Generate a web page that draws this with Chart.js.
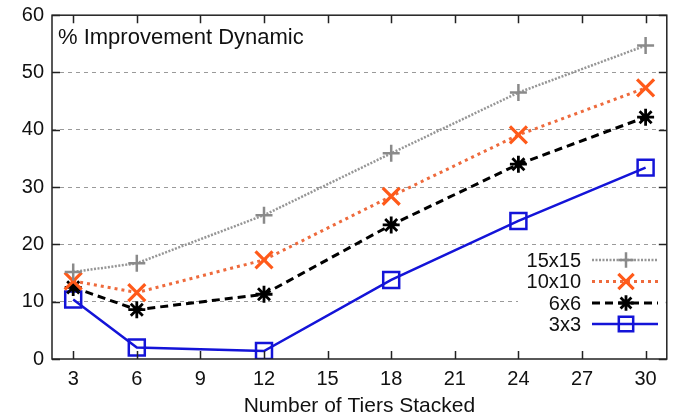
<!DOCTYPE html>
<html>
<head>
<meta charset="utf-8">
<script src="https://cdn.jsdelivr.net/npm/chart.js@4"></script>
<style>
  html, body { margin: 0; background: #fff; }
  #wrap { width: 682px; height: 419px; }
</style>
</head>
<body>
<div id="wrap"><canvas id="c"></canvas></div>
<script>
// data
const xTiers = [3, 6, 12, 18, 24, 30];
const xTicks = [3, 6, 9, 12, 15, 18, 21, 24, 27, 30];
const yTicks = [0, 10, 20, 30, 40, 50, 60];
const labels = ['15x15', '10x10', '6x6', '3x3'];
const s15 = [15.2, 16.7, 25.1, 35.9, 46.5, 54.7];
const s10 = [13.6, 11.6, 17.3, 28.4, 39.1, 47.3];
const s6  = [12.5, 8.6, 11.3, 23.4, 34.0, 42.2];
const s3  = [10.4, 2.0, 1.4, 13.8, 24.1, 33.4];

const FONT = '"Liberation Sans", Arial, Helvetica, sans-serif';
const pts = arr => xTiers.map((x, i) => ({ x: x, y: arr[i] }));

const series = [
  { label: labels[0], data: pts(s15), borderColor: '#969696', pointBorderColor: '#8a8a8a', borderDash: [2, 1.5], borderWidth: 2.5, pointStyle: 'cross', pointRadius: 8.5, pointBorderWidth: 2.5 },
  { label: labels[1], data: pts(s10), borderColor: '#ee6a3c', pointBorderColor: '#ff5a1a', borderDash: [3, 4], borderWidth: 3, pointStyle: 'crossRot', pointRadius: 12, pointBorderWidth: 3.2 },
  { label: labels[2], data: pts(s6),  borderColor: '#000000', pointBorderColor: '#000000', borderDash: [8, 5], borderWidth: 3, pointStyle: 'star', pointRadius: 8.5, pointBorderWidth: 2.8 },
  { label: labels[3], data: pts(s3),  borderColor: '#1414d8', pointBorderColor: '#1414d8', borderDash: [], borderWidth: 2.5, pointStyle: 'rect', pointRadius: 11.3, pointBorderWidth: 2.5 }
];
series.forEach(s => { s.pointBackgroundColor = 'rgba(255,255,255,0)'; s.fill = false; s.tension = 0; });

// box, inward ticks, legend and inner title
const frame = {
  id: 'frame',
  afterDraw(chart) {
    const { ctx, chartArea: a, scales: { x, y } } = chart;
    ctx.save();
    ctx.strokeStyle = '#222';
    ctx.lineWidth = 1.5;
    ctx.setLineDash([]);
    ctx.strokeRect(a.left, a.top, a.right - a.left, a.bottom - a.top);
    ctx.beginPath();
    xTicks.forEach(v => {
      const px = Math.round(x.getPixelForValue(v)) + 0.5;
      ctx.moveTo(px, a.bottom); ctx.lineTo(px, a.bottom - 8);
      ctx.moveTo(px, a.top); ctx.lineTo(px, a.top + 8);
    });
    yTicks.forEach(v => {
      const py = Math.round(y.getPixelForValue(v)) + 0.5;
      ctx.moveTo(a.left, py); ctx.lineTo(a.left + 8, py);
      ctx.moveTo(a.right, py); ctx.lineTo(a.right - 8, py);
    });
    ctx.stroke();

    // title inside plot
    ctx.fillStyle = '#111';
    ctx.font = '22px ' + FONT;
    ctx.textAlign = 'left';
    ctx.textBaseline = 'middle';
    ctx.fillText('% Improvement Dynamic', a.left + 6, 38);

    // legend
    ctx.font = '20px ' + FONT;
    ctx.fillStyle = '#fff';
    ctx.fillRect(518, 250, a.right - 519, 86);
    const rowY = [260, 281.5, 303, 324];
    chart.data.datasets.forEach((ds, i) => {
      const yy = rowY[i];
      ctx.fillStyle = '#111';
      ctx.textAlign = 'right';
      ctx.fillText(ds.label, 581, yy + 1);
      ctx.strokeStyle = ds.borderColor;
      ctx.lineWidth = ds.borderWidth;
      ctx.setLineDash(ds.borderDash);
      ctx.beginPath();
      ctx.moveTo(592, yy); ctx.lineTo(658, yy);
      ctx.stroke();
      ctx.setLineDash([]);
      ctx.strokeStyle = ds.pointBorderColor;
      ctx.fillStyle = 'rgba(255,255,255,0)';
      ctx.lineWidth = ds.pointBorderWidth;
      Chart.helpers.drawPoint(ctx, { pointStyle: ds.pointStyle, radius: ds.pointRadius * 0.9, borderWidth: ds.pointBorderWidth, rotation: 0 }, 626, yy);
    });
    ctx.restore();
  }
};

new Chart(document.getElementById('c'), {
  type: 'line',
  data: { datasets: series },
  options: {
    responsive: true,
    maintainAspectRatio: false,
    animation: false,
    layout: { padding: { left: 0, right: 10, top: 15, bottom: 0 } },
    plugins: { legend: { display: false }, tooltip: { enabled: false } },
    scales: {
      x: {
        type: 'linear',
        min: 2,
        max: 31,
        afterBuildTicks: s => { s.ticks = xTicks.map(v => ({ value: v })); },
        afterFit: s => { s.height = 60; s.paddingLeft = 0; s.paddingRight = 0; },
        grid: { display: false, drawTicks: false },
        border: { display: false },
        ticks: { color: '#111', font: { family: FONT, size: 20 }, padding: 8, maxRotation: 0, autoSkip: false },
        title: { display: true, text: 'Number of Tiers Stacked', color: '#111', font: { family: FONT, size: 21 }, padding: { top: 0, bottom: 0 } }
      },
      y: {
        min: 0,
        max: 60,
        afterBuildTicks: s => { s.ticks = yTicks.map(v => ({ value: v })); },
        afterFit: s => { s.width = 52; s.paddingTop = 0; s.paddingBottom = 0; },
        grid: {
          drawTicks: false,
          color: c => (c.tick.value === 0 || c.tick.value === 60) ? 'rgba(0,0,0,0)' : '#9a9a9a',
          lineWidth: 1
        },
        border: { display: false, dash: [4, 4] },
        ticks: { color: '#111', font: { family: FONT, size: 20 }, padding: 8 }
      }
    }
  },
  plugins: [frame]
});
</script>
</body>
</html>
